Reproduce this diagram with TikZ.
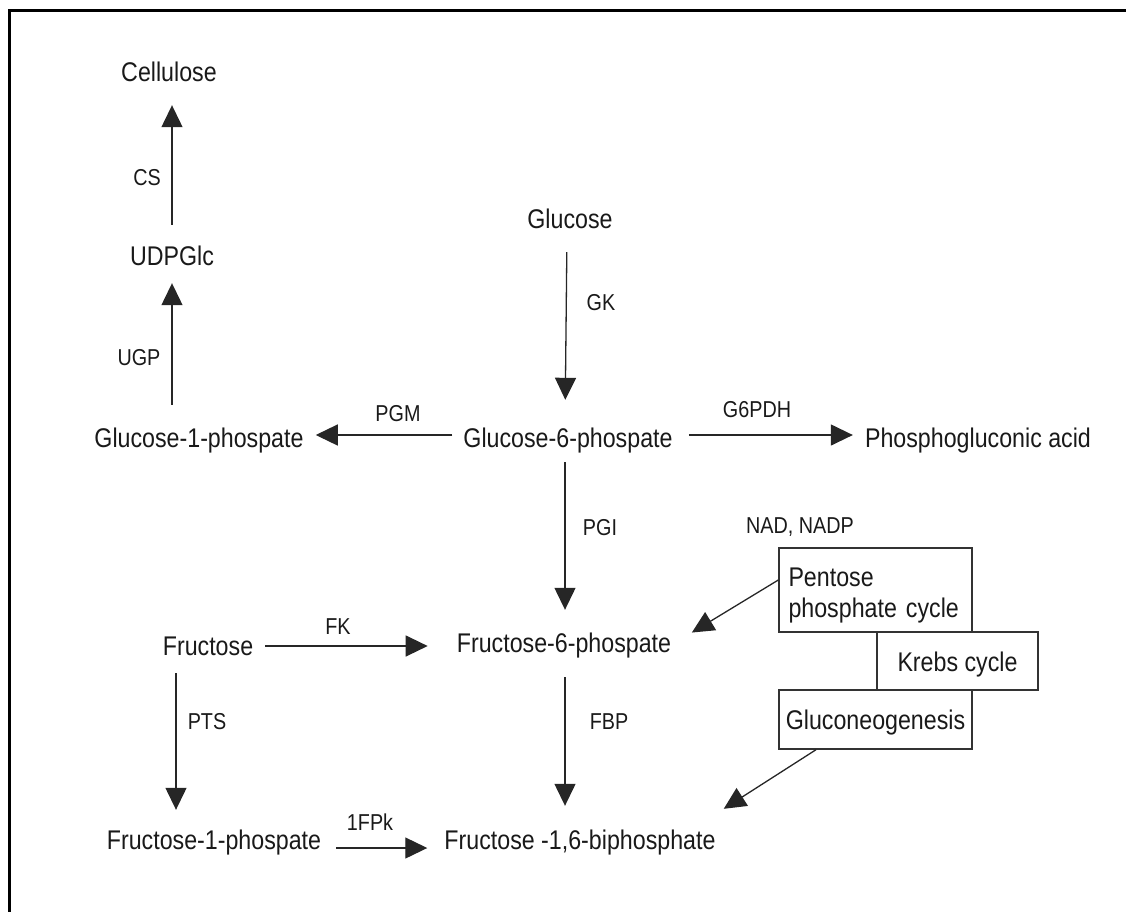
\documentclass[tikz,border=0pt]{standalone}
\usepackage{fontspec}
\setmainfont{Liberation Sans}[FakeStretch=0.86]
\usetikzlibrary{arrows.meta}
\begin{document}
\begin{tikzpicture}[x=1pt,y=-1pt,
  lbl/.style={font=\fontsize{23}{27}\selectfont, anchor=base, inner sep=0pt, text=black!90},
  met/.style={font=\fontsize{27}{30}\selectfont, anchor=base, inner sep=0pt, text height=19pt, text depth=5pt, text=black!90},
  arr/.style={draw=black!85, line width=1.3pt, -{Triangle[length=22pt,width=21pt]}},
  box/.style={draw=black!80, line width=1.4pt, font=\fontsize{27}{31}\selectfont, inner sep=0pt, text=black!90}]
\useasboundingbox (0,0) rectangle (1126,911);
\draw[line width=3pt] (9,913) -- (9,10) -- (1128,10);

% metabolites
\node[met] (cell) at (169,81) {Cellulose};
\node[met] (udp) at (172,265) {UDPGlc};
\node[met] (g1p) at (199,447) {Glucose-1-phospate};
\node[met] (glc) at (570,228) {Glucose};
\node[met] (g6p) at (568,447) {Glucose-6-phospate};
\node[met] (pga) at (978,447) {Phosphogluconic acid};
\node[met] (f6p) at (564,652) {Fructose-6-phospate};
\node[met] (fru) at (208,655) {Fructose};
\node[met] (f1p) at (214,849) {Fructose-1-phospate};
\node[met] (f16) at (580,849) {Fructose -1,6-biphosphate};

% boxes
\node[box, minimum width=193pt, minimum height=84pt, text width=174pt, align=left] (pent) at (875.5,590) {\rule{0pt}{29pt}Pentose\\phosphate cycle};
\node[box, minimum width=161pt, minimum height=58pt, text height=24pt, text depth=4pt] (krebs) at (957.5,661) {Krebs cycle};
\node[box, minimum width=193pt, minimum height=59pt, text height=24pt, text depth=4pt] (gluco) at (875.5,719.5) {Gluconeogenesis};

% enzyme labels
\node[lbl] (cs) at (147,185) {CS};
\node[lbl] (ugp) at (139,365) {UGP};
\node[lbl] (pgm) at (398,421) {PGM};
\node[lbl] (gk) at (601,310) {GK};
\node[lbl] (g6pdh) at (757,417) {G6PDH};
\node[lbl] (pgi) at (600,535) {PGI};
\node[lbl] (nad) at (800,533) {NAD, NADP};
\node[lbl] (fk) at (338,634) {FK};
\node[lbl] (fbp) at (609,729) {FBP};
\node[lbl] (pts) at (207,729) {PTS};
\node[lbl] (fpk) at (370,830) {1FPk};

% arrows
\draw[arr, shorten <=21pt, shorten >=19pt] (udp.north) -- (udp.north |- cell.south);
\draw[arr, shorten <=23pt, shorten >=13pt] (g1p.north -| udp.south) -- (udp.south);
\draw[arr, shorten <=19pt, shorten >=28pt] ([xshift=-3pt]glc.south) -- ([xshift=-3pt]g6p.north);
\draw[arr, shorten <=11pt, shorten >=12pt] ([yshift=5pt]g6p.west) -- ([yshift=5pt]g1p.east);
\draw[arr, shorten <=16pt, shorten >=12pt] ([yshift=5pt]g6p.east) -- ([yshift=5pt]pga.west);
\draw[arr, shorten <=10pt, shorten >=23pt] ([xshift=-3pt]g6p.south) -- ([xshift=-3pt]g6p.south |- f6p.north);
\draw[arr, shorten <=12pt, shorten >=29pt] ([yshift=2pt]fru.east) -- ([yshift=2pt]fru.east -| f6p.west);
\draw[arr, shorten <=20pt, shorten >=24pt] ([xshift=1pt]f6p.south) -- ([xshift=1pt]f6p.south |- f16.north);
\draw[arr, shorten <=13pt, shorten >=20pt] ([xshift=-32pt]fru.south) -- ([xshift=-32pt]fru.south |- f1p.north);
\draw[arr, shorten <=15pt, shorten >=17pt] ([yshift=-6pt]f1p.east) -- ([yshift=-6pt]f1p.east -| f16.west);
\draw[arr, shorten >=24pt] ([yshift=10pt]pent.west) -- (f6p.east);
\draw[arr] ([xshift=-59.5pt]gluco.south) -- ([xshift=8pt,yshift=21pt]f16.north east);
\end{tikzpicture}
\end{document}
